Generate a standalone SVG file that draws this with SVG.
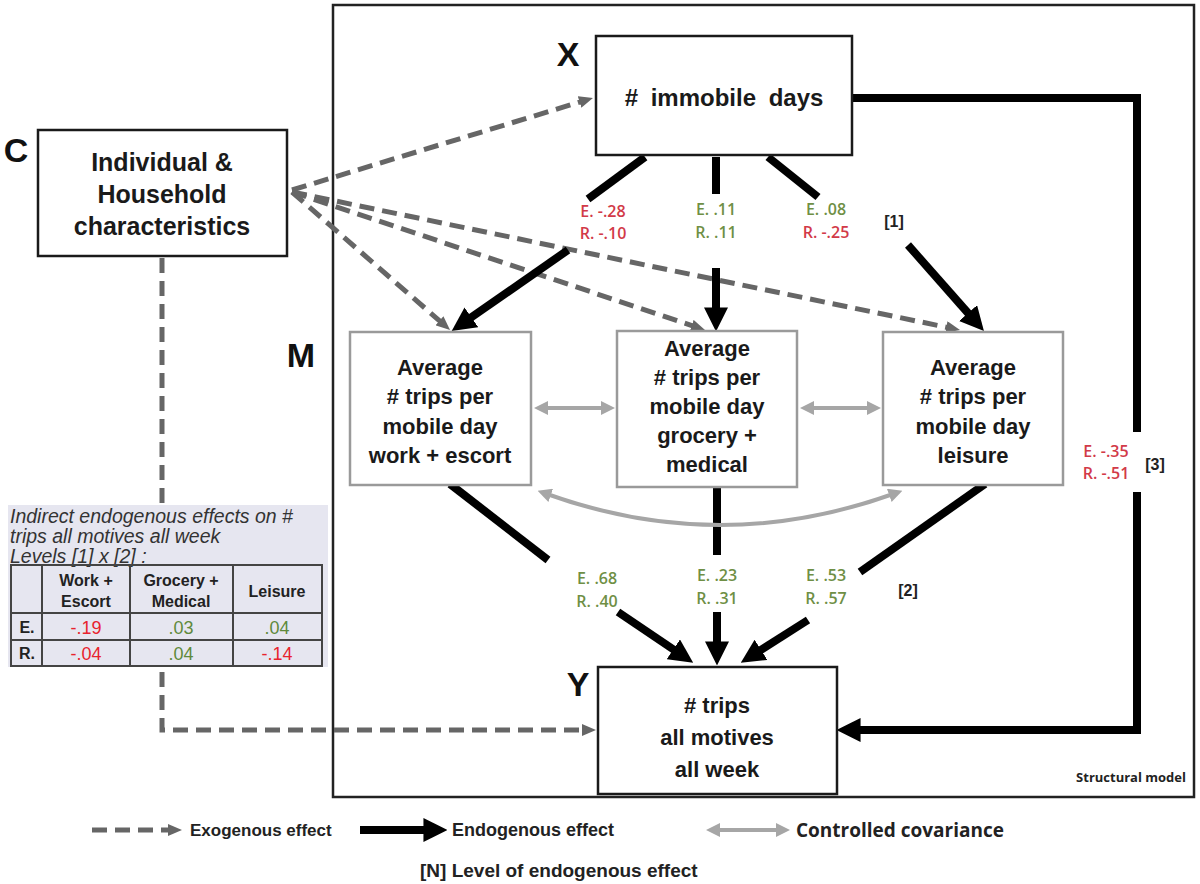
<svg xmlns="http://www.w3.org/2000/svg" width="1200" height="884" viewBox="0 0 1200 884">
<style>
.box{fill:#fff;stroke:#1a1a1a;stroke-width:2.5}
.mbox{fill:#fff;stroke:#9a9a9a;stroke-width:2.5}
.t{font-family:"Liberation Sans",Arial,sans-serif;font-weight:bold;fill:#1a1a1a;text-anchor:middle}
.big{font-family:"Liberation Sans",Arial,sans-serif;font-weight:bold;fill:#111;font-size:34px;text-anchor:middle}
.endo{stroke:#000;stroke-width:8;fill:none}
.exo{stroke:#666;stroke-width:5;stroke-dasharray:15 8;fill:none}
.cov{stroke:#a6a6a6;stroke-width:4;fill:none}
.co{font-family:"Open Sans","Liberation Sans",sans-serif;font-weight:600;font-size:16px;text-anchor:middle}
.r{fill:#d23a48}
.g{fill:#6f8f45}
.lev{font-family:"Liberation Sans",Arial,sans-serif;font-weight:bold;font-size:16px;fill:#222;text-anchor:middle}
.it{font-family:"Liberation Sans",Arial,sans-serif;font-style:italic;font-size:19.5px;fill:#333}
.th{font-family:"Liberation Sans",Arial,sans-serif;font-weight:bold;font-size:16px;fill:#222;text-anchor:middle}
.tv{font-family:"Liberation Sans",Arial,sans-serif;font-size:18px;text-anchor:middle}
.tr{fill:#e8232e}
.tg{fill:#5f8a3c}
.leg{font-family:"Liberation Sans",Arial,sans-serif;font-weight:bold;fill:#222}
</style>
<defs>
<marker id="ah" markerUnits="userSpaceOnUse" markerWidth="24" markerHeight="24" viewBox="0 0 22 22" refX="6" refY="11" orient="auto"><path d="M0,0 L22,11 L0,22 z" fill="#000"/></marker>
<marker id="ahg" markerUnits="userSpaceOnUse" markerWidth="14" markerHeight="12" viewBox="0 0 14 12" refX="4" refY="6" orient="auto"><path d="M0,0 L14,6 L0,12 z" fill="#666"/></marker>
<marker id="ahc" markerUnits="userSpaceOnUse" markerWidth="14" markerHeight="14" viewBox="0 0 14 14" refX="4" refY="7" orient="auto-start-reverse"><path d="M0,0 L14,7 L0,14 z" fill="#a6a6a6"/></marker>
</defs>
<rect width="1200" height="884" fill="#fff"/>

<g id="structural-model">
<rect x="333" y="5" width="861" height="792" fill="none" stroke="#222" stroke-width="2.5"/>
<text x="1186" y="782" font-family="'Open Sans','Liberation Sans',sans-serif" font-weight="bold" font-size="13" fill="#222" text-anchor="end">Structural model</text>
</g>

<g id="connectors">
<line class="exo" x1="292" y1="190" x2="583.4" y2="100.9" marker-end="url(#ahg)"/>
<line class="exo" x1="292" y1="192" x2="442.5" y2="323.4" marker-end="url(#ahg)"/>
<line class="exo" x1="292" y1="192" x2="695.5" y2="326.8" marker-end="url(#ahg)"/>
<line class="exo" x1="292" y1="192" x2="950.2" y2="328" marker-end="url(#ahg)"/>
<path class="exo" d="M162,258 V730 H586" marker-end="url(#ahg)"/>
<line class="endo" x1="645" y1="157" x2="588" y2="199"/>
<line class="endo" x1="568" y1="250" x2="466" y2="321" marker-end="url(#ah)"/>
<line class="endo" x1="716" y1="157" x2="716" y2="194"/>
<line class="endo" x1="716" y1="268" x2="716" y2="314" marker-end="url(#ah)"/>
<line class="endo" x1="768" y1="157" x2="818" y2="197"/>
<line class="endo" x1="908" y1="245" x2="972.4" y2="318" marker-end="url(#ah)"/>
<line class="endo" x1="450" y1="484" x2="548" y2="560"/>
<line class="endo" x1="618" y1="612" x2="678.7" y2="653" marker-end="url(#ah)"/>
<line class="endo" x1="717" y1="487" x2="717" y2="555"/>
<line class="endo" x1="717" y1="612" x2="717" y2="648" marker-end="url(#ah)"/>
<line class="endo" x1="985" y1="484" x2="860" y2="572"/>
<line class="endo" x1="808" y1="620" x2="755.5" y2="653.4" marker-end="url(#ah)"/>
<path class="endo" d="M852,98 H1137 V432"/>
<path class="endo" d="M1137,492 V730 H854" marker-end="url(#ah)"/>
<line class="cov" x1="544" y1="408" x2="605" y2="408" marker-start="url(#ahc)" marker-end="url(#ahc)"/>
<line class="cov" x1="810" y1="408" x2="871" y2="408" marker-start="url(#ahc)" marker-end="url(#ahc)"/>
<path class="cov" d="M547,494 Q720,556 893,494" marker-start="url(#ahc)" marker-end="url(#ahc)"/>
</g>

<g id="coefficients">
<text class="co r" x="603" y="217">E. -.28</text>
<text class="co r" x="603" y="239">R. -.10</text>
<text class="co g" x="716" y="215">E. .11</text>
<text class="co g" x="716" y="238">R. .11</text>
<text class="co g" x="826" y="215">E. .08</text>
<text class="co r" x="826" y="238">R. -.25</text>
<text class="lev" x="894" y="227">[1]</text>
<text class="co g" x="597" y="584">E. .68</text>
<text class="co g" x="597" y="607">R. .40</text>
<text class="co g" x="717" y="581">E. .23</text>
<text class="co g" x="717" y="604">R. .31</text>
<text class="co g" x="826" y="581">E. .53</text>
<text class="co g" x="826" y="604">R. .57</text>
<text class="lev" x="908" y="596">[2]</text>
<text class="co r" x="1106" y="457">E. -.35</text>
<text class="co r" x="1106" y="479">R. -.51</text>
<text class="lev" x="1155" y="470">[3]</text>
</g>

<g id="node-C">
<rect class="box" x="38" y="130" width="249" height="126"/>
<text class="t" x="162" y="171" font-size="25">Individual &amp;</text>
<text class="t" x="162" y="203" font-size="25">Household</text>
<text class="t" x="162" y="235" font-size="25">characteristics</text>
<text class="big" x="16" y="162">C</text>
</g>

<g id="node-X">
<rect class="box" x="596" y="36" width="256" height="119"/>
<text class="t" x="724" y="106" font-size="24" word-spacing="6"># immobile days</text>
<text class="big" x="568" y="66">X</text>
</g>

<g id="node-M1">
<rect class="mbox" x="350" y="332" width="181" height="153"/>
<text class="t" x="440" y="375" font-size="22">Average</text>
<text class="t" x="440" y="404" font-size="22"># trips per</text>
<text class="t" x="440" y="434" font-size="22">mobile day</text>
<text class="t" x="440" y="463" font-size="22">work + escort</text>
<text class="big" x="301" y="367">M</text>
</g>

<g id="node-M2">
<rect class="mbox" x="617" y="331" width="180" height="156"/>
<text class="t" x="707" y="356" font-size="22">Average</text>
<text class="t" x="707" y="385" font-size="22"># trips per</text>
<text class="t" x="707" y="414" font-size="22">mobile day</text>
<text class="t" x="707" y="443" font-size="22">grocery +</text>
<text class="t" x="707" y="472" font-size="22">medical</text>
</g>

<g id="node-M3">
<rect class="mbox" x="883" y="332" width="180" height="153"/>
<text class="t" x="973" y="375" font-size="22">Average</text>
<text class="t" x="973" y="404" font-size="22"># trips per</text>
<text class="t" x="973" y="434" font-size="22">mobile day</text>
<text class="t" x="973" y="463" font-size="22">leisure</text>
</g>

<g id="node-Y">
<rect class="box" x="598" y="667" width="239" height="127"/>
<text class="t" x="717" y="713" font-size="22"># trips</text>
<text class="t" x="717" y="745" font-size="22">all motives</text>
<text class="t" x="717" y="777" font-size="22">all week</text>
<text class="big" x="578" y="696">Y</text>
</g>

<g id="indirect-table">
<rect x="8" y="505" width="320" height="162" fill="#e6e6f0"/>
<text class="it" x="10" y="523">Indirect endogenous effects on #</text>
<text class="it" x="10" y="543">trips all motives all week</text>
<text class="it" x="10" y="563">Levels [1] x [2] :</text>
<g stroke="#444" stroke-width="2" fill="none">
<rect x="11" y="565" width="311" height="101"/>
<line x1="42" y1="565" x2="42" y2="666"/>
<line x1="130" y1="565" x2="130" y2="666"/>
<line x1="233" y1="565" x2="233" y2="666"/>
<line x1="11" y1="613" x2="322" y2="613"/>
<line x1="11" y1="640" x2="322" y2="640"/>
</g>
<text class="th" x="86" y="586">Work +</text>
<text class="th" x="86" y="607">Escort</text>
<text class="th" x="181" y="586">Grocery +</text>
<text class="th" x="181" y="607">Medical</text>
<text class="th" x="277" y="597">Leisure</text>
<text class="th" x="27" y="633">E.</text>
<text class="th" x="27" y="659">R.</text>
<text class="tv tr" x="86" y="634">-.19</text>
<text class="tv tg" x="181" y="634">.03</text>
<text class="tv tg" x="277" y="634">.04</text>
<text class="tv tr" x="86" y="660">-.04</text>
<text class="tv tg" x="181" y="660">.04</text>
<text class="tv tr" x="277" y="660">-.14</text>
</g>

<g id="legend">
<line class="exo" x1="92" y1="830" x2="172" y2="830" marker-end="url(#ahg)"/>
<text class="leg" x="190" y="836" style="font-size:17px">Exogenous effect</text>
<line class="endo" x1="360" y1="830" x2="430" y2="830" marker-end="url(#ah)"/>
<text class="leg" x="452" y="836" style="font-size:18px">Endogenous effect</text>
<line class="cov" x1="716" y1="830" x2="780" y2="830" marker-start="url(#ahc)" marker-end="url(#ahc)"/>
<text class="leg" x="796" y="837" style="font-size:19px;font-family:'Open Sans','Liberation Sans',sans-serif">Controlled covariance</text>
<text class="leg" x="420" y="877" style="font-size:19px">[N] Level of endogenous effect</text>
</g>
</svg>
